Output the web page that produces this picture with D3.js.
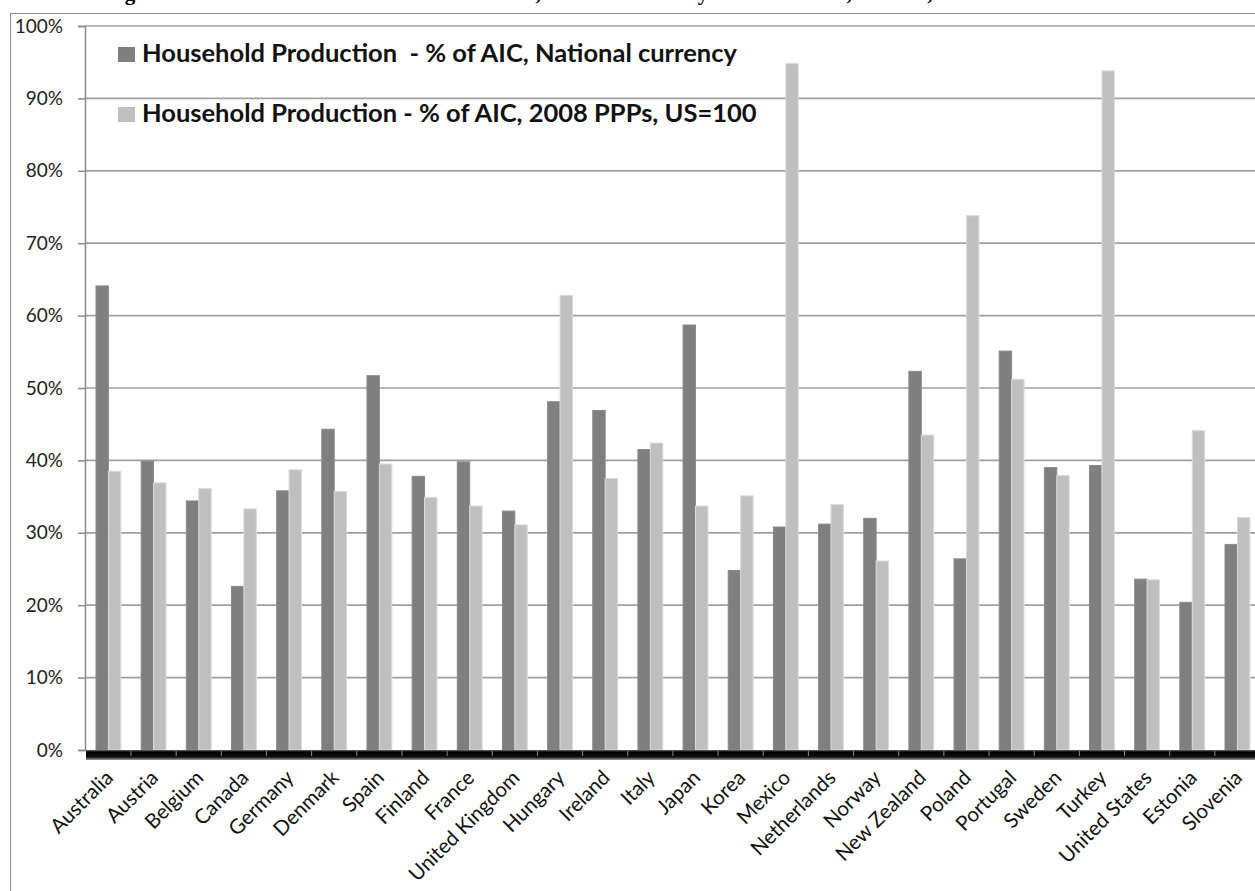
<!DOCTYPE html>
<html>
<head>
<meta charset="utf-8">
<script src="https://cdn.jsdelivr.net/npm/d3@7"></script>
<style>
  body { margin: 0; background: #fff; }
  svg { display: block; font-family: Lato, "Open Sans", sans-serif; }
</style>
</head>
<body>
<div id="chart"></div>
<script>
// data (percent)
const countries = ["Australia", "Austria", "Belgium", "Canada", "Germany", "Denmark", "Spain",
  "Finland", "France", "United Kingdom", "Hungary", "Ireland", "Italy", "Japan", "Korea",
  "Mexico", "Netherlands", "Norway", "New Zealand", "Poland", "Portugal", "Sweden", "Turkey",
  "United States", "Estonia", "Slovenia"];
const nationalCurrency = [64.1, 39.9, 34.4, 22.6, 35.8, 44.3, 51.7, 37.8, 39.8, 33.0, 48.1, 46.9,
  41.5, 58.7, 24.8, 30.8, 31.2, 32.0, 52.3, 26.4, 55.1, 39.0, 39.3, 23.6, 20.4, 28.4];
const ppp2008 = [38.5, 36.9, 36.1, 33.3, 38.7, 35.7, 39.5, 34.9, 33.7, 31.1, 62.8, 37.5,
  42.4, 33.7, 35.1, 94.8, 33.9, 26.1, 43.5, 73.8, 51.2, 37.9, 93.8, 23.5, 44.1, 32.1];
const seriesNames = ["Household Production  - % of AIC, National currency",
  "Household Production - % of AIC, 2008 PPPs, US=100"];
const seriesColors = ["#7f7f7f", "#bfbfbf"];
const yTicks = [0, 10, 20, 30, 40, 50, 60, 70, 80, 90, 100];
const title = "Figure 5.  Household Production as share of AIC, National currency and 2008 PPPs, US=100, 2008";

const width = 1255, height = 891;
const plot = { left: 85, right: 1260, top: 26, bottom: 750 };

const svg = d3.select("#chart").append("svg")
  .attr("width", width)
  .attr("height", height);

// title sits above the frame and is cut by the top edge in the source
svg.append("text")
  .attr("x", 106)
  .attr("y", 0)
  .attr("font-family", "Liberation Serif, serif")
  .attr("font-weight", "bold")
  .attr("font-size", 21)
  .text(title);

// outer chart frame
svg.append("rect")
  .attr("x", 10.5).attr("y", 13.5)
  .attr("width", 1300).attr("height", 1000)
  .attr("fill", "none")
  .attr("stroke", "#8c8c8c");

const y = d3.scaleLinear().domain([0, 100]).range([plot.bottom, plot.top]);

const step = 45.16;
const x0 = d3.scaleBand()
  .domain(countries)
  .range([85.84, 85.84 + step * countries.length])
  .paddingInner(0.45)
  .paddingOuter(0.225);

const x1 = d3.scaleBand()
  .domain([0, 1])
  .range([0, x0.bandwidth()]);

// gridlines
svg.append("g").selectAll("line")
  .data(yTicks.filter(d => d > 0))
  .enter().append("line")
  .attr("x1", plot.left).attr("x2", plot.right)
  .attr("y1", d => y(d)).attr("y2", d => y(d))
  .attr("stroke", "#a0a0a0")
  .attr("stroke-width", 1.7);

// y axis
const yAxis = d3.axisLeft(y)
  .tickValues(yTicks)
  .tickFormat(d => d + "%")
  .tickSize(7)
  .tickPadding(15);

const yg = svg.append("g")
  .attr("transform", `translate(${plot.left},0)`)
  .call(yAxis);
yg.select(".domain").attr("stroke", "#8a8a8a").attr("stroke-width", 1.5);
yg.selectAll(".tick line").attr("stroke", "#8a8a8a").attr("stroke-width", 1.5);
yg.selectAll(".tick text")
  .attr("font-family", "Lato, sans-serif")
  .attr("font-size", 19)
  .attr("fill", "#222");

// bars
const groups = svg.append("g").selectAll("g")
  .data(countries)
  .enter().append("g")
  .attr("transform", d => `translate(${x0(d)},0)`);

groups.selectAll("rect")
  .data((d, i) => [nationalCurrency[i], ppp2008[i]])
  .enter().append("rect")
  .attr("x", (d, j) => x1(j))
  .attr("width", x1.bandwidth())
  .attr("y", d => y(d))
  .attr("height", d => y(0) - y(d))
  .attr("fill", (d, j) => seriesColors[j])
  .attr("stroke", (d, j) => j === 1 ? "#dadada" : "#8a8a8a")
  .attr("stroke-width", 1);

// dark 3D floor under the bars
const defs = svg.append("defs");
const grad = defs.append("linearGradient")
  .attr("id", "floor").attr("x1", 0).attr("x2", 0).attr("y1", 0).attr("y2", 1);
grad.append("stop").attr("offset", "0%").attr("stop-color", "#6a6a6a");
grad.append("stop").attr("offset", "20%").attr("stop-color", "#000");
grad.append("stop").attr("offset", "70%").attr("stop-color", "#111");
grad.append("stop").attr("offset", "100%").attr("stop-color", "#a0a0a0");

svg.append("rect")
  .attr("x", plot.left + 1)
  .attr("y", plot.bottom)
  .attr("width", plot.right - plot.left)
  .attr("height", 10)
  .attr("fill", "url(#floor)");

svg.append("g").selectAll("line")
  .data(countries.slice(1))
  .enter().append("line")
  .attr("x1", d => x0(d) + x0.bandwidth() / 2 - x0.step() / 2)
  .attr("x2", d => x0(d) + x0.bandwidth() / 2 - x0.step() / 2)
  .attr("y1", plot.bottom + 1)
  .attr("y2", plot.bottom + 6)
  .attr("stroke", "#8a8a8a")
  .attr("stroke-width", 1);

// category labels, rotated
svg.append("g").selectAll("text")
  .data(countries)
  .enter().append("text")
  .attr("transform", d => `translate(${x0(d) + x0.bandwidth() / 2 + 6},${plot.bottom + 29}) rotate(-45)`)
  .attr("text-anchor", "end")
  .attr("font-size", 20.5)
  .attr("fill", "#111")
  .text(d => d);

// legend
const legend = svg.append("g").selectAll("g")
  .data(seriesNames)
  .enter().append("g")
  .attr("transform", (d, i) => `translate(118,${62 + i * 60})`);

legend.append("rect")
  .attr("x", 0).attr("y", -15)
  .attr("width", 17).attr("height", 15)
  .attr("fill", (d, i) => seriesColors[i]);

legend.append("text")
  .attr("x", 24)
  .attr("y", 0)
  .attr("font-weight", "bold")
  .attr("font-size", 25.5)
  .attr("fill", "#111")
  .style("white-space", "pre")
  .text(d => d);
</script>
</body>
</html>
